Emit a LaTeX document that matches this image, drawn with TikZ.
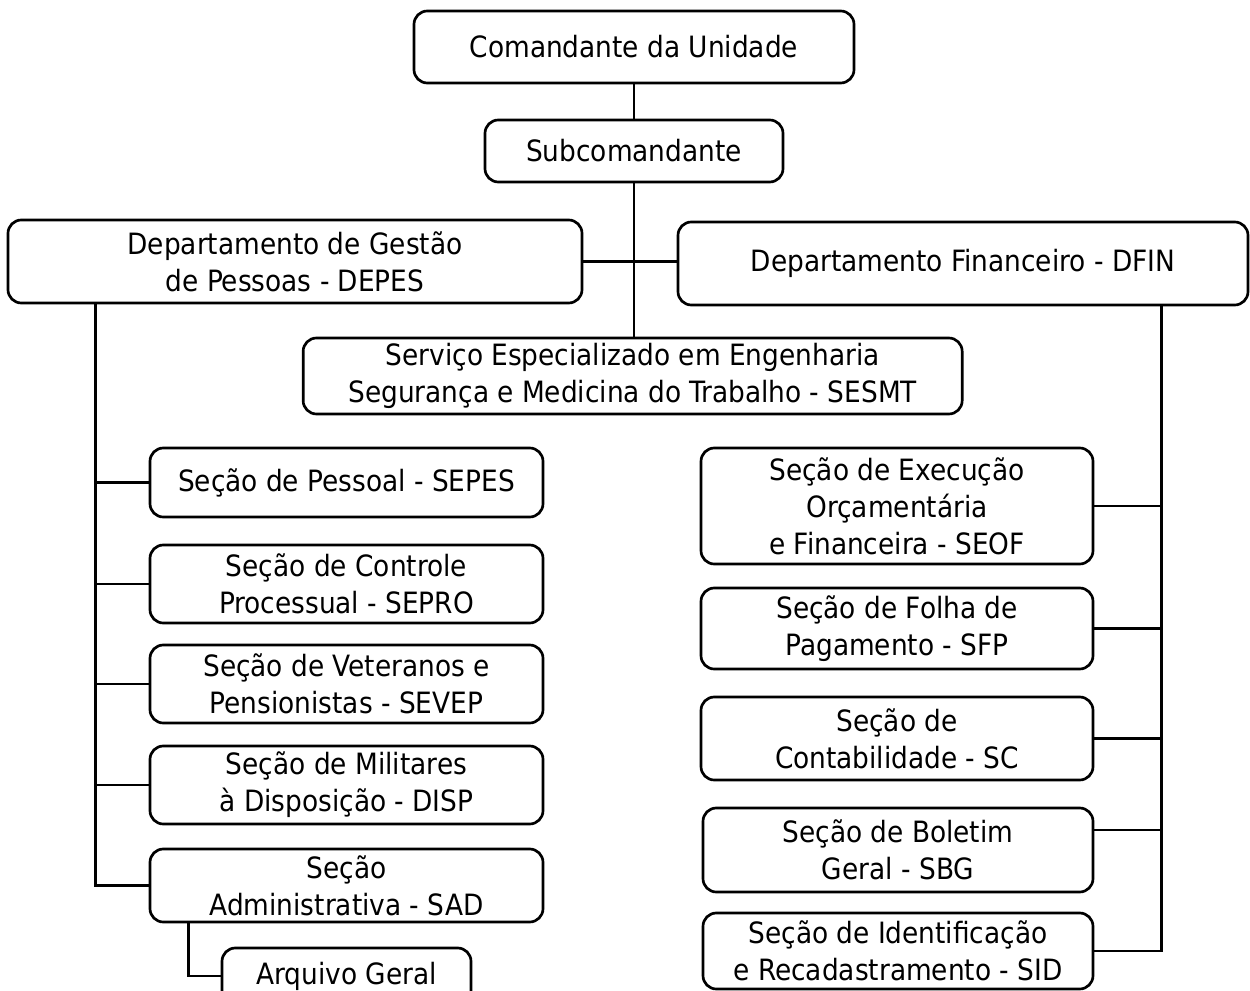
\documentclass[tikz,border=0pt]{standalone}
\usepackage{fontspec}
\setmainfont{DejaVu Sans Condensed}
\usepackage{tikz}
\usetikzlibrary{shapes,arrows}
\tikzstyle{box} = [draw, rounded corners=10pt, line width=2pt, inner sep=0pt, align=center, font=\fontsize{22}{27.75}\selectfont]
\tikzstyle{link} = [line width=2pt]

\begin{document}
\begin{tikzpicture}[node distance=75.5pt]
\useasboundingbox (0,0) rectangle (937.5pt,-743.25pt);

\node[box, minimum width=330pt, minimum height=54pt] (cmd) at (475.5pt,-35.25pt) {Comandante da Unidade};
\node[box, minimum width=223.5pt, minimum height=46.5pt, below of = cmd, node distance=78pt] (sub) [] {Subcomandante};
\node[box, minimum width=494.25pt, minimum height=57pt, below of = sub, node distance=168.75pt, xshift=-1pt] (sesmt) [] {Serviço Especializado em Engenharia\\Segurança e Medicina do Trabalho - SESMT};
\node[box, minimum width=430.5pt, minimum height=62.25pt] (depes) at (221.25pt,-196.125pt) {Departamento de Gestão\\de Pessoas - DEPES};
\node[box, minimum width=427.5pt, minimum height=62.25pt] (dfin) at (722.25pt,-197.625pt) {Departamento Financeiro - DFIN};

% DEPES
\node[box, minimum width=294.75pt, minimum height=51.75pt, below of = depes, node distance=165.75pt, xshift=38.625pt] (sepes) [] {Seção de Pessoal - SEPES};
\node[box, minimum width=294.75pt, minimum height=58.5pt, below of = sepes, node distance=76.125pt] (sepro) [] {Seção de Controle\\Processual - SEPRO};
\node[box, minimum width=294.75pt, minimum height=58.5pt, below of = sepro, node distance=75pt] (sevep) [] {Seção de Veteranos e\\Pensionistas - SEVEP};
\node[box, minimum width=294.75pt, minimum height=58.5pt, below of = sevep, node distance=75.75pt] (disp) [] {Seção de Militares\\à Disposição - DISP};
\node[box, minimum width=294.75pt, minimum height=54.75pt, below of = disp, node distance=75.375pt] (sad) [] {Seção\\Administrativa - SAD};
\node[box, minimum width=186.75pt, minimum height=42pt, below of = sad, node distance=67.875pt] (arq) [] {Arquivo Geral};

% DFIN
\node[box, minimum width=294pt, minimum height=87pt, below of = dfin, node distance=181.875pt, xshift=-49.5pt] (seof) [] {Seção de Execução\\Orçamentária\\e Financeira - SEOF};
\node[box, minimum width=294pt, minimum height=60.75pt, below of = seof, node distance=91.875pt] (sfp) [] {Seção de Folha de\\Pagamento - SFP};
\node[box, minimum width=294pt, minimum height=62.25pt, below of = sfp, node distance=82.5pt] (sc) [] {Seção de\\Contabilidade - SC};
\node[box, minimum width=292.5pt, minimum height=63pt, below of = sc, node distance=83.625pt, xshift=0.75pt] (sbg) [] {Seção de Boletim\\Geral - SBG};
\node[box, minimum width=292.5pt, minimum height=57pt, below of = sbg, node distance=75.75pt] (sid) [] {Seção de Identificação\\e Recadastramento - SID};

\coordinate (ltop) at ([xshift=66.75pt]depes.south west);
\coordinate (rtop) at ([xshift=-66pt]dfin.south east);

\draw[link] (cmd) -- (sub);
\draw[link] (sub.south) -- (sub.south |- sesmt.north);
\draw[link] (depes.east) -- (depes.east -| dfin.west);

\draw[link] (ltop) |- (sad.west);
\draw[link] (sepes.west) -- (sepes.west -| ltop);
\draw[link] (sepro.west) -- (sepro.west -| ltop);
\draw[link] (sevep.west) -- (sevep.west -| ltop);
\draw[link] (disp.west) -- (disp.west -| ltop);
\draw[link] ([xshift=30pt]sad.south west) |- (arq.west);

\draw[link] (rtop) |- (sid.east);
\draw[link] (seof.east) -- (seof.east -| rtop);
\draw[link] (sfp.east) -- (sfp.east -| rtop);
\draw[link] (sc.east) -- (sc.east -| rtop);
\draw[link] ([yshift=15pt]sbg.east) -- ([yshift=15pt]sbg.east -| rtop);
\end{tikzpicture}
\end{document}
